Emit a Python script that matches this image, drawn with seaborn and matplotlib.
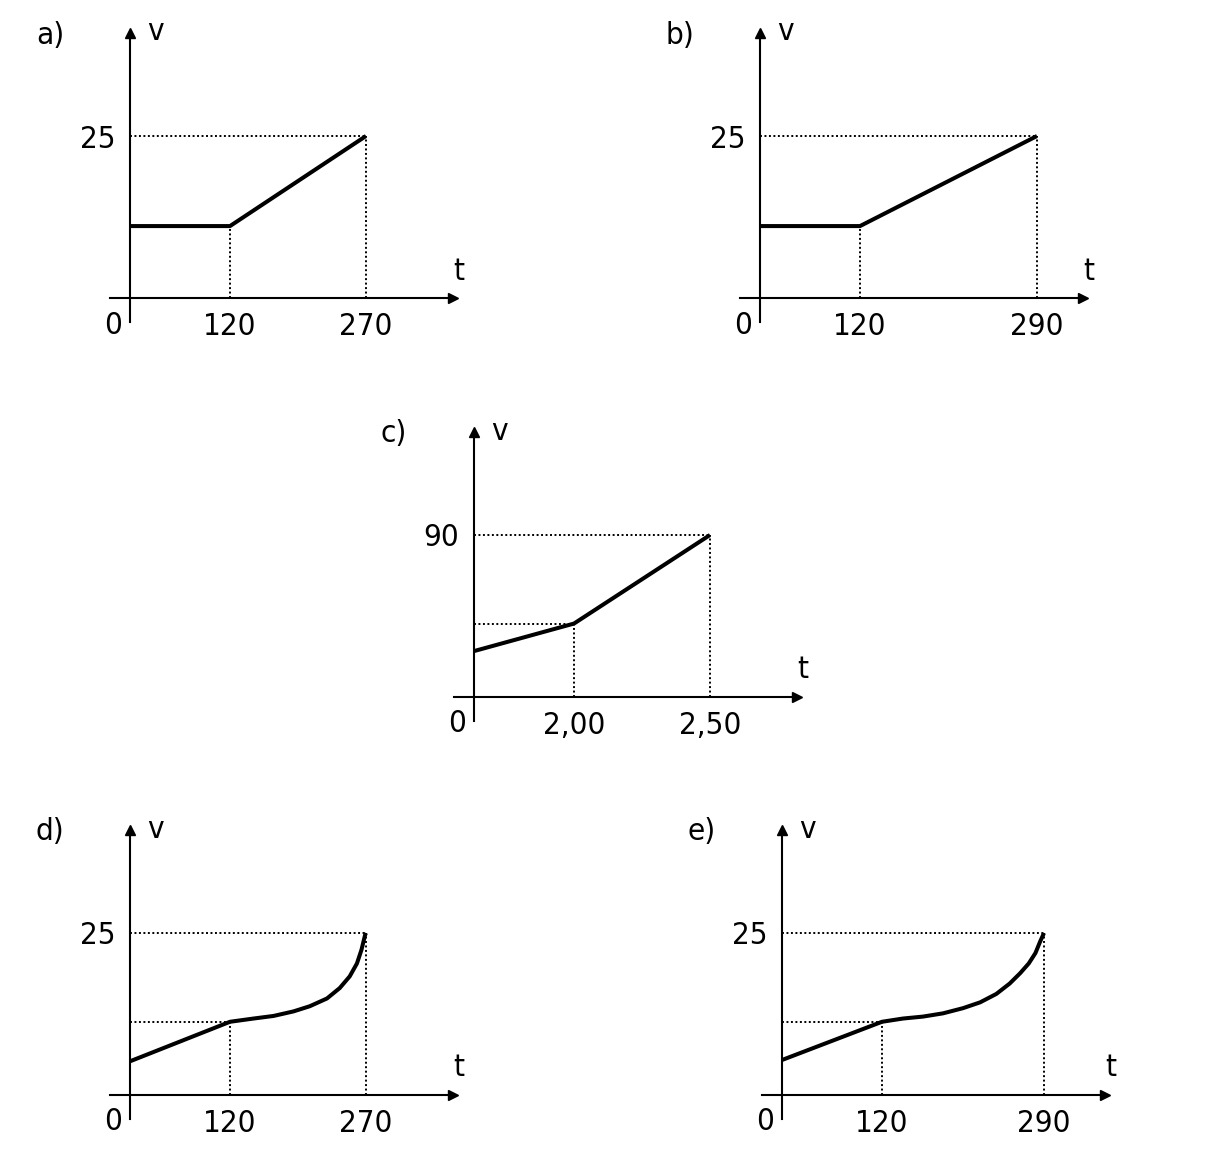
import numpy as np
import matplotlib
matplotlib.use('Agg')
import matplotlib.pyplot as plt
import seaborn as sns
from matplotlib.scale import FuncScale

sns.set_style('white')
plt.rcParams['font.family'] = ['DejaVu Sans']
plt.rcParams['font.stretch'] = 'condensed'
plt.rcParams['text.color'] = 'black'
plt.rcParams['xtick.color'] = 'black'
plt.rcParams['ytick.color'] = 'black'

# ---- data for the five v-t sketches ----
names = ['a)', 'b)', 'c)', 'd)', 'e)']

t_a = [0, 120, 270]
v_a = [11.1, 11.1, 25]

t_b = [0, 120, 290]
v_b = [11.1, 11.1, 25]

t_c = [0, 2.00, 2.50]
v_c = [25.5, 40.8, 90]

t_d = [0, 120, 146, 168, 190, 208, 227, 241, 252, 260, 265, 269, 270]
v_d = [5.2, 11.3, 11.8, 12.2, 12.9, 13.7, 14.9, 16.5, 18.3, 20.3, 22.4, 24.7, 25]

t_e = [0, 120, 142, 163, 184, 205, 223, 240, 254, 265, 274, 281, 286, 290]
v_e = [5.4, 11.3, 11.8, 12.1, 12.6, 13.4, 14.3, 15.6, 17.2, 18.8, 20.3, 21.9, 23.7, 25]

t_ticks = [[120, 270], [120, 290], [2.00, 2.50], [120, 270], [120, 290]]
t_ticklabels = [['120', '270'], ['120', '290'], ['2,00', '2,50'],
                ['120', '270'], ['120', '290']]
v_top = [25, 25, 90, 25, 25]
v_toplabel = ['25', '25', '90', '25', '25']
# break point that gets a dotted horizontal guide (None = no guide)
v_break = [None, None, 40.8, 11.3, 11.3]
v_knee = [11.1, 11.1, 40.8, 11.3, 11.3]

series = [(t_a, v_a), (t_b, v_b), (t_c, v_c), (t_d, v_d), (t_e, v_e)]

# ---- layout (pixels) ----
W, H = 1207, 1150
origins = [(130, 298), (760, 298), (474, 697), (130, 1095), (782, 1095)]
x2_px = [236, 277, 236, 236, 262]   # schematic position of the second tick
x1_px = 100
v_px = 162                          # pixels from axis to top value


def piecewise(kx, ky):
    kx = np.asarray(kx, float)
    ky = np.asarray(ky, float)

    def f(x):
        x = np.asarray(x, float)
        y = np.interp(x, kx, ky)
        lo = ky[0] + (x - kx[0]) * (ky[1] - ky[0]) / (kx[1] - kx[0])
        hi = ky[-1] + (x - kx[-1]) * (ky[-1] - ky[-2]) / (kx[-1] - kx[-2])
        return np.where(x < kx[0], lo, np.where(x > kx[-1], hi, y))
    return f


fig = plt.figure(figsize=(W / 100, H / 100), dpi=100)
fs = 22.5
dot = (0, (1, 1.3))

for i, (name, (t, v)) in enumerate(zip(names, series)):
    ox, oy = origins[i]
    left, right = ox - 20, ox + 323
    top, bottom = oy - 265, oy + 24
    ax = fig.add_axes([left / W, (H - bottom) / H,
                       (right - left) / W, (bottom - top) / H])

    kt = [0, t_ticks[i][0], t_ticks[i][1]]
    kp = [0, x1_px, x2_px[i]]
    fwd = piecewise(kt, kp)
    inv = piecewise(kp, kt)
    ax.set_xscale(FuncScale(ax.xaxis, (fwd, inv)))
    ax.set_xlim(float(inv(-20)), float(inv(323)))
    vm = v_top[i]
    ax.set_ylim(-24 * vm / v_px, 265 * vm / v_px)

    # guides
    t1, t2 = t_ticks[i]
    ax.hlines(vm, 0, t2, colors='k', linestyles=dot, lw=1.4)
    ax.vlines(t2, 0, vm, colors='k', linestyles=dot, lw=1.4)
    ax.vlines(t1, 0, v_knee[i], colors='k', linestyles=dot, lw=1.4)
    if v_break[i] is not None:
        ax.hlines(v_break[i], 0, t1, colors='k', linestyles=dot, lw=1.4)

    sns.lineplot(x=t, y=v, ax=ax, sort=False, estimator=None,
                 color='black', lw=2.9)
    ax.lines[-1].set_solid_joinstyle('round')
    ax.lines[-1].set_solid_capstyle('butt')

    # axes with arrows
    for s in ['top', 'right']:
        ax.spines[s].set_visible(False)
    ax.spines['left'].set_position(('data', 0))
    ax.spines['bottom'].set_position(('data', 0))
    for s in ['left', 'bottom']:
        ax.spines[s].set_linewidth(1.5)
        ax.spines[s].set_color('black')
    ax.plot(1, 0, '>k', ms=7, transform=ax.get_yaxis_transform(), clip_on=False)
    ax.plot(0, 1, '^k', ms=7, transform=ax.get_xaxis_transform(), clip_on=False)

    ax.set_xticks(t_ticks[i], t_ticklabels[i])
    ax.set_yticks([vm], [v_toplabel[i]])
    ax.tick_params(axis='x', length=0, pad=10, labelsize=fs)
    ax.tick_params(axis='y', length=0, pad=10.5, labelsize=fs)

    ax.annotate('0', xy=(0, 0), xytext=(-17, -27), textcoords='offset pixels',
                ha='center', va='center', fontsize=fs)
    ax.annotate(name, xy=(0, 0), xytext=(-80, 263), textcoords='offset pixels',
                ha='center', va='center', fontsize=fs, annotation_clip=False)
    ax.annotate('v', xy=(0, 0), xytext=(25, 266), textcoords='offset pixels',
                ha='center', va='center', fontsize=fs, annotation_clip=False)
    ax.annotate('t', xy=(0, 0), xytext=(329, 27), textcoords='offset pixels',
                ha='center', va='center', fontsize=fs, annotation_clip=False)
    ax.set_xlabel('')
    ax.set_ylabel('')

fig.savefig('out.png', dpi=100)
